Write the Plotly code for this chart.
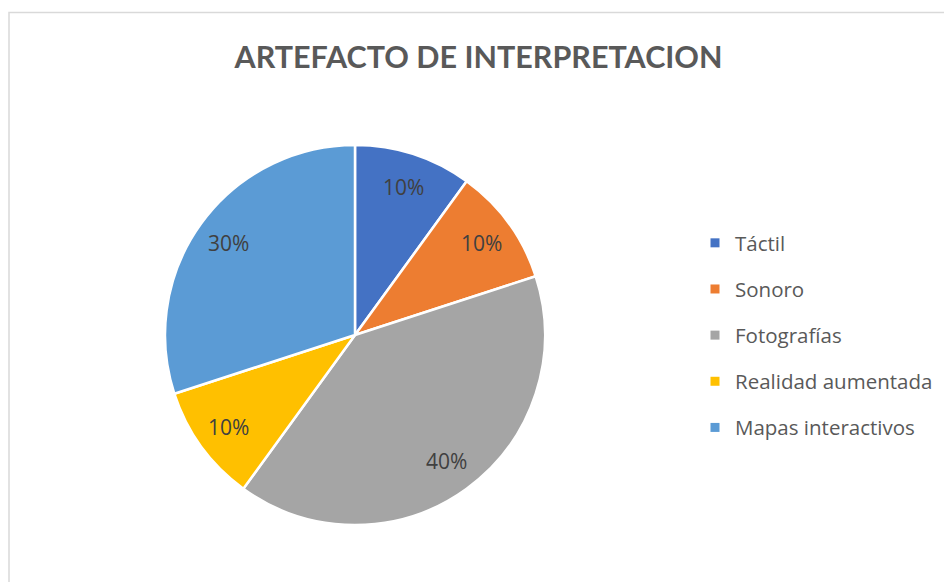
import math
import plotly.graph_objects as go

categories = ["Táctil", "Sonoro", "Fotografías", "Realidad aumentada", "Mapas interactivos"]
values = [10, 10, 40, 10, 30]
colors = ["#4472C4", "#ED7D31", "#A5A5A5", "#FFC000", "#5B9BD5"]
title_text = "ARTEFACTO DE INTERPRETACION"

W, H = 952, 582
OFF = 8  # page body margin
TFONT = "Lato"
FONT = "Open Sans"

# pie geometry (page pixels)
CX, CY, R = 355, 335, 190
dom_x = [(CX - R - OFF) / W, (CX + R - OFF) / W]
dom_y = [1 - (CY + R - OFF) / H, 1 - (CY - R - OFF) / H]

fig = go.Figure()
fig.add_trace(go.Pie(
    labels=categories, values=values, sort=False, direction="clockwise", rotation=0,
    marker=dict(colors=colors, line=dict(color="white", width=2.5)),
    textinfo="none",
    domain=dict(x=dom_x, y=dom_y),
    showlegend=False, hoverinfo="label+percent",
))
for c, col in zip(categories, colors):
    fig.add_trace(go.Scatter(
        x=[None], y=[None], mode="markers", name=c, legendgroup=c,
        marker=dict(symbol="square", size=9, color=col),
    ))

# percent labels placed along each slice's mid-angle
total = sum(values)
annotations = []
cum = 0
cxp = (dom_x[0] + dom_x[1]) / 2
cyp = (dom_y[0] + dom_y[1]) / 2
for v in values:
    mid = (cum + v / 2) / total * 2 * math.pi
    cum += v
    rr = 0.82 * R
    annotations.append(dict(
        x=cxp + rr * math.sin(mid) / W, y=cyp + rr * math.cos(mid) / H,
        xref="paper", yref="paper", showarrow=False,
        text=f"{round(v / total * 100)}%",
        font=dict(family=FONT, size=21, color="#404040"),
        xanchor="center", yanchor="middle",
    ))

fig.update_layout(
    width=W, height=H,
    margin=dict(l=0, r=0, t=0, b=0),
    paper_bgcolor="white", plot_bgcolor="white",
    xaxis=dict(visible=False), yaxis=dict(visible=False),
    title=dict(text="<b>" + title_text + "</b>", x=(478.5 - OFF) / W, xanchor="center",
               y=1 - (57 - OFF) / H, yanchor="middle", yref="container",
               font=dict(family=TFONT, size=30.5, color="#595959")),
    legend=dict(x=(735 - 40 - OFF) / W, xanchor="left", y=1 - (223 - OFF) / H, yanchor="top",
                font=dict(family=FONT, size=20.5, color="#595959"),
                tracegroupgap=16.5, itemwidth=30),
    annotations=annotations,
    shapes=[dict(type="rect", xref="paper", yref="paper",
                 x0=1 / W, x1=1.05, y0=-0.05, y1=1 - (12.5 - OFF) / H,
                 line=dict(color="#D9D9D9", width=1.5), fillcolor="rgba(0,0,0,0)")],
)
fig.write_html("out.html")
